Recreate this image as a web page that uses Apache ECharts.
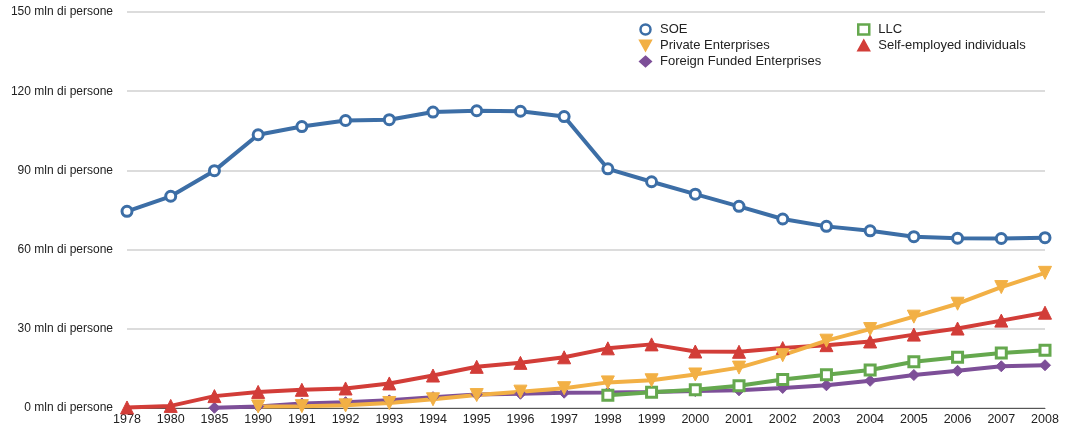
<!DOCTYPE html>
<html>
<head>
<meta charset="utf-8">
<script src="https://cdn.jsdelivr.net/npm/echarts@6/dist/echarts.min.js"></script>
<style>
  html, body { margin: 0; padding: 0; background: #fff; }
  #main { width: 1068px; height: 430px; }
</style>
</head>
<body>
<div id="main"></div>
<script>
// anni (asse x, categorie)
var years = ['1978', '1980', '1985', '1990', '1991', '1992', '1993', '1994', '1995', '1996', '1997',
             '1998', '1999', '2000', '2001', '2002', '2003', '2004', '2005', '2006', '2007', '2008'];

// occupati, milioni di persone
var soe = [74.5, 80.2, 89.9, 103.5, 106.6, 108.9, 109.2, 112.1, 112.6, 112.4, 110.4,
           90.6, 85.7, 81.0, 76.4, 71.6, 68.8, 67.1, 64.9, 64.3, 64.2, 64.5];
var privateEnt = [null, null, null, 0.6, 0.7, 1.0, 1.9, 3.3, 4.9, 6.2, 7.5,
                  9.7, 10.5, 12.7, 15.3, 20.0, 25.5, 29.9, 34.6, 39.5, 45.8, 51.2];
var foreignFunded = [null, null, 0.1, 0.6, 1.7, 2.2, 2.9, 4.1, 5.1, 5.4, 5.8,
                     5.9, 6.1, 6.4, 6.7, 7.6, 8.6, 10.3, 12.5, 14.1, 15.8, 16.2];
var llc = [null, null, null, null, null, null, null, null, null, null, null,
           4.8, 6.0, 6.9, 8.4, 10.8, 12.6, 14.4, 17.5, 19.2, 20.8, 21.9];
var selfEmployed = [0.2, 0.8, 4.5, 6.1, 6.9, 7.4, 9.3, 12.3, 15.6, 17.1, 19.2,
                    22.6, 24.1, 21.4, 21.3, 22.7, 23.8, 25.2, 27.8, 30.1, 33.1, 36.1];

var yTicks = [0, 30, 60, 90, 120, 150];

var BLUE = '#3c6ea6', ORANGE = '#f2b045', GREEN = '#65a84e', RED = '#d23d38', PURPLE = '#7d4f98';
var FONT = '"Liberation Sans", Arial, sans-serif';
var TRI_DOWN = 'path://M0,0 L10,0 L5,9 Z';

var chart = echarts.init(document.getElementById('main'));

// hollow = marker bianco con bordo colorato
function lineSeries(name, data, color, symbol, size, hollow) {
    return {
        name: name,
        type: 'line',
        data: data,
        connectNulls: false,
        symbol: symbol,
        symbolSize: size,
        showAllSymbol: true,
        lineStyle: { color: color, width: 4 },
        itemStyle: hollow
            ? { color: '#fff', borderColor: color, borderWidth: 3 }
            : { color: color, borderColor: color, borderWidth: 1 },
        emphasis: { disabled: true },
        animation: false
    };
}

var legendText = { color: '#222', fontSize: 13, fontFamily: FONT, padding: [0, 0, 0, 4] };

chart.setOption({
    backgroundColor: '#fff',
    grid: { left: 127, right: 23, top: 12, bottom: 22, containLabel: false },
    legend: [
        {
            orient: 'vertical', left: 634, top: 18, itemGap: 3, itemWidth: 11, itemHeight: 10,
            textStyle: legendText,
            data: [
                { name: 'SOE', icon: 'circle', itemStyle: { borderWidth: 2.5 } },
                { name: 'Private Enterprises', icon: TRI_DOWN },
                { name: 'Foreign Funded Enterprises', icon: 'diamond' }
            ]
        },
        {
            orient: 'vertical', left: 852, top: 18, itemGap: 3, itemWidth: 11, itemHeight: 10,
            textStyle: legendText,
            data: [
                { name: 'LLC', icon: 'rect', itemStyle: { borderWidth: 2.5 } },
                { name: 'Self-employed individuals', icon: 'triangle' }
            ]
        }
    ],
    xAxis: {
        type: 'category',
        data: years,
        boundaryGap: false,
        axisLine: { show: true, lineStyle: { color: '#555', width: 1 } },
        axisTick: { show: false },
        axisLabel: { color: '#222', fontSize: 12.5, fontFamily: FONT, margin: 5, interval: 0 },
        splitLine: { show: false }
    },
    yAxis: {
        type: 'value',
        min: yTicks[0],
        max: yTicks[yTicks.length - 1],
        interval: 30,
        axisLine: { show: false },
        axisTick: { show: false },
        axisLabel: {
            color: '#222', fontSize: 12, fontFamily: FONT, margin: 14,
            formatter: function (v) { return v + ' mln di persone'; }
        },
        splitLine: { show: true, lineStyle: { color: '#d0d0d0', width: 1.5 } }
    },
    series: [
        lineSeries('Foreign Funded Enterprises', foreignFunded, PURPLE, 'diamond', 11),
        lineSeries('LLC', llc, GREEN, 'rect', 10, true),
        lineSeries('Self-employed individuals', selfEmployed, RED, 'triangle', 13),
        lineSeries('Private Enterprises', privateEnt, ORANGE, TRI_DOWN, 13),
        lineSeries('SOE', soe, BLUE, 'circle', 10, true)
    ]
});
</script>
</body>
</html>
